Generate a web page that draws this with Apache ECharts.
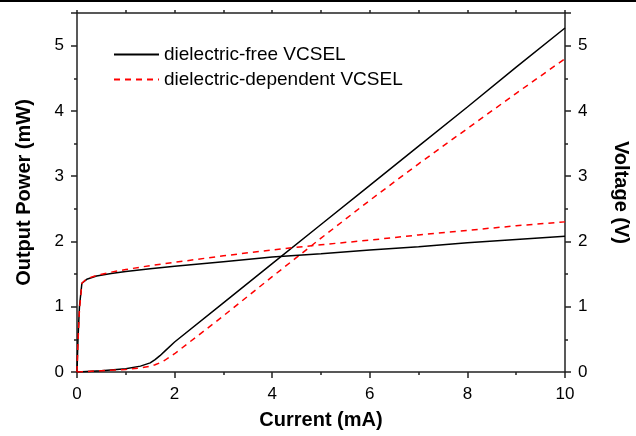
<!DOCTYPE html>
<html>
<head>
<meta charset="utf-8">
<script src="https://cdn.jsdelivr.net/npm/echarts@6/dist/echarts.min.js"></script>
<style>
  html, body { margin: 0; padding: 0; background: #fff; }
  #chart { width: 636px; height: 436px; }
</style>
</head>
<body>
<div id="chart"></div>
<script>
// current (mA) sample points for the L-I curves
var currentP = [0, 0.5, 1, 1.3, 1.5, 1.6, 1.7, 1.8, 2, 3, 4, 5, 6, 7, 8, 9, 10];
var freePower = [0, 0.02, 0.05, 0.09, 0.14, 0.19, 0.25, 0.32, 0.46, 1.06, 1.66, 2.26, 2.86, 3.46, 4.06, 4.67, 5.27];
var depPower  = [0, 0.02, 0.04, 0.06, 0.09, 0.11, 0.14, 0.18, 0.28, 0.86, 1.46, 2.05, 2.63, 3.19, 3.73, 4.27, 4.8];

// current (mA) sample points for the I-V curves
var currentV = [0, 0.02, 0.05, 0.1, 0.2, 0.4, 0.7, 1, 1.5, 2, 3, 4, 5, 6, 7, 8, 9, 10];
var freeVolt = [0, 0.5, 1.0, 1.36, 1.42, 1.47, 1.51, 1.54, 1.58, 1.62, 1.69, 1.76, 1.81, 1.87, 1.92, 1.98, 2.03, 2.08];
var depVolt  = [0, 0.45, 0.95, 1.36, 1.43, 1.48, 1.53, 1.57, 1.63, 1.68, 1.78, 1.87, 1.95, 2.02, 2.1, 2.17, 2.24, 2.3];

var yTicks = [0, 1, 2, 3, 4, 5];

function pairs(xs, ys) {
  return xs.map(function (x, i) { return [x, ys[i]]; });
}

var chart = echarts.init(document.getElementById('chart'));
var font = '"Liberation Sans", Arial, sans-serif';
var axisCol = '#222';

// y axis with labels + long ticks
function yMain(pos, name) {
  return {
    type: 'value', position: pos, min: 0, max: 5.5, interval: 1,
    name: name, nameLocation: 'middle', nameGap: pos == 'left' ? 43 : 46,
    nameRotate: pos == 'left' ? 90 : -90,
    nameTextStyle: { fontFamily: font, fontWeight: 'bold', fontSize: 20, color: '#000' },
    axisLine: { show: true, onZero: false, lineStyle: { color: axisCol, width: 1.5 } },
    axisTick: { show: true, inside: false, length: 6, lineStyle: { color: axisCol, width: 1.5 } },
    axisLabel: {
      fontFamily: font, fontSize: 17, color: '#000', margin: 13,
      formatter: function (v) { return yTicks.indexOf(v) >= 0 ? String(v) : ''; }
    },
    splitLine: { show: false }
  };
}
// y axis carrying only the half-unit short ticks
function yMinor(pos) {
  return {
    type: 'value', position: pos, min: 0, max: 5.5, interval: 0.5,
    axisLine: { show: false, onZero: false },
    axisTick: { show: true, inside: false, length: 3, lineStyle: { color: axisCol, width: 1.5 } },
    axisLabel: { show: false },
    splitLine: { show: false }
  };
}

var option = {
  backgroundColor: '#fff',
  animation: false,
  grid: { left: 77, right: 71, top: 13, bottom: 64, outerBoundsMode: 'none', containLabel: false },
  graphic: [{
    type: 'rect', left: 0, top: 0,
    shape: { width: 636, height: 2 },
    style: { fill: '#000' }
  }],
  legend: {
    orient: 'vertical', left: 108, top: 40,
    itemWidth: 45, itemHeight: 14, itemGap: 6,
    itemStyle: { opacity: 0 },
    textStyle: { fontFamily: font, fontSize: 19, color: '#000' },
    data: ['dielectric-free VCSEL', 'dielectric-dependent VCSEL']
  },
  xAxis: [{
    type: 'value', position: 'bottom', min: 0, max: 10, interval: 2,
    name: 'Current (mA)', nameLocation: 'middle', nameGap: 38,
    nameTextStyle: { fontFamily: font, fontWeight: 'bold', fontSize: 20, color: '#000' },
    axisLine: { show: true, onZero: false, lineStyle: { color: axisCol, width: 1.5 } },
    axisTick: { show: true, inside: false, length: 6, lineStyle: { color: axisCol, width: 1.5 } },
    minorTick: { show: true, splitNumber: 2, length: 3, lineStyle: { color: axisCol, width: 1.5 } },
    axisLabel: { fontFamily: font, fontSize: 17, color: '#000', margin: 14 },
    splitLine: { show: false }
  }, {
    type: 'value', position: 'top', min: 0, max: 10, interval: 1,
    axisLine: { show: true, onZero: false, lineStyle: { color: axisCol, width: 1.5 } },
    axisTick: { show: true, inside: false, length: 3, lineStyle: { color: axisCol, width: 1.5 } },
    axisLabel: { show: false },
    splitLine: { show: false }
  }],
  yAxis: [
    yMain('left', 'Output Power (mW)'),
    yMain('right', 'Voltage (V)'),
    yMinor('left'),
    yMinor('right')
  ],
  series: [{
    name: 'dielectric-free VCSEL', type: 'line', yAxisIndex: 0,
    symbol: 'none', color: '#000',
    lineStyle: { color: '#000', width: 1.5 },
    data: pairs(currentP, freePower)
  }, {
    name: 'dielectric-dependent VCSEL', type: 'line', yAxisIndex: 0,
    symbol: 'none', color: '#ff0000',
    lineStyle: { color: '#ff0000', width: 1.5, type: [6, 5] },
    data: pairs(currentP, depPower)
  }, {
    name: 'dielectric-free VCSEL', type: 'line', yAxisIndex: 1,
    symbol: 'none', color: '#000',
    lineStyle: { color: '#000', width: 1.5 },
    data: pairs(currentV, freeVolt)
  }, {
    name: 'dielectric-dependent VCSEL', type: 'line', yAxisIndex: 1,
    symbol: 'none', color: '#ff0000',
    lineStyle: { color: '#ff0000', width: 1.5, type: [6, 5] },
    data: pairs(currentV, depVolt)
  }]
};

chart.setOption(option);
</script>
</body>
</html>
